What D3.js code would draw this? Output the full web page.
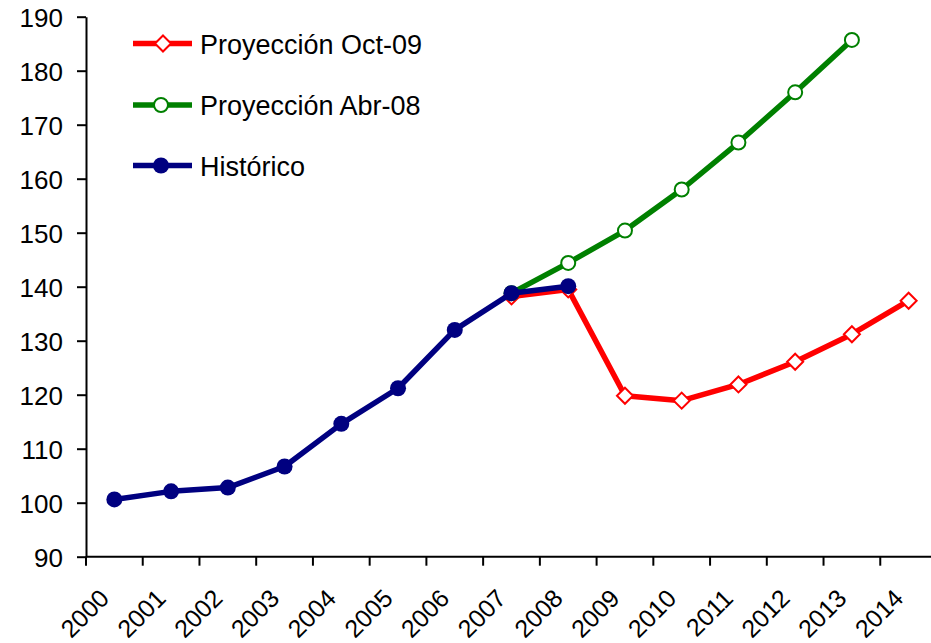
<!DOCTYPE html>
<html>
<head>
<meta charset="utf-8">
<script src="https://cdn.jsdelivr.net/npm/d3@7"></script>
<style>
  html, body { margin: 0; padding: 0; background: #fff; }
  svg { display: block; }
  text { font-family: "Liberation Sans", Arial, sans-serif; fill: #000; }
</style>
</head>
<body>
<svg id="chart" width="931" height="643"></svg>
<script>
const categories = ["2000","2001","2002","2003","2004","2005","2006","2007","2008","2009","2010","2011","2012","2013","2014"];
const historico = [100.6, 102.1, 102.8, 106.7, 114.6, 121.2, 132.0, 138.8, 140.1, null, null, null, null, null, null];
const proyAbr08 = [null, null, null, null, null, null, null, 138.8, 144.4, 150.4, 158.0, 166.7, 176.0, 185.7, null];
const proyOct09 = [null, null, null, null, null, null, null, 138.2, 139.5, 119.8, 118.9, 121.9, 126.1, 131.2, 137.4];
const yTicks = [90, 100, 110, 120, 130, 140, 150, 160, 170, 180, 190];
const seriesNames = ["Proyección Oct-09", "Proyección Abr-08", "Histórico"];

(function () {
const svg = d3.select("#chart");
const plotLeft = 86, plotTop = 16.7, plotBottom = 556.7, plotRight = 937;

const x = d3.scaleBand().domain(categories).range([plotLeft, plotRight]).padding(0);
const y = d3.scaleLinear().domain([90, 190]).range([plotBottom, plotTop]);

// Y axis
const yAxis = svg.append("g").attr("transform", `translate(${plotLeft},0)`)
  .call(d3.axisLeft(y).tickValues(yTicks).tickSize(9).tickPadding(14).tickSizeOuter(0));
yAxis.select(".domain").attr("stroke", "#000").attr("stroke-width", 2);
yAxis.selectAll(".tick line").attr("stroke", "#000").attr("stroke-width", 2);
yAxis.selectAll(".tick text").style("font-size", "26px").attr("dy", "0.36em");

// X axis
const xAxis = svg.append("g").attr("transform", `translate(0,${plotBottom})`);
xAxis.append("line").attr("x1", plotLeft).attr("x2", 931).attr("y1", 0).attr("y2", 0)
  .attr("stroke", "#000").attr("stroke-width", 2);
xAxis.selectAll("line.tk").data(categories).enter().append("line").attr("class", "tk")
  .attr("x1", d => x(d)).attr("x2", d => x(d)).attr("y1", 0).attr("y2", 9)
  .attr("stroke", "#000").attr("stroke-width", 2);
xAxis.selectAll("text.lb").data(categories).enter().append("text").attr("class", "lb")
  .attr("transform", d => `translate(${x(d) + x.bandwidth() / 2 - 10},37) rotate(-45)`)
  .attr("text-anchor", "end").attr("dy", "0.35em")
  .style("font-size", "25px").text(d => d);

const cx = (d, i) => x(categories[i]) + x.bandwidth() / 2;
const line = d3.line().defined(d => d != null).x(cx).y(d => y(d));

const series = [
  { name: seriesNames[0], data: proyOct09, color: "#FF0000", marker: "diamond" },
  { name: seriesNames[1], data: proyAbr08, color: "#008000", marker: "open" },
  { name: seriesNames[2], data: historico, color: "#000080", marker: "filled" }
];

function drawMarker(g, type, color) {
  if (type === "diamond") {
    g.append("path").attr("d", "M0,-8L8,0L0,8L-8,0Z")
      .attr("fill", "#fff").attr("stroke", color).attr("stroke-width", 2);
  } else if (type === "open") {
    g.append("circle").attr("r", 7).attr("fill", "#fff").attr("stroke", color).attr("stroke-width", 2);
  } else {
    g.append("circle").attr("r", 8).attr("fill", color);
  }
}

series.forEach(s => {
  const g = svg.append("g");
  g.append("path").datum(s.data).attr("d", line)
    .attr("fill", "none").attr("stroke", s.color).attr("stroke-width", 5.5)
    .attr("stroke-linejoin", "round");
  s.data.forEach((v, i) => {
    if (v == null) return;
    const m = g.append("g").attr("transform", `translate(${cx(v, i)},${y(v)})`);
    drawMarker(m, s.marker, s.color);
  });
});

// Legend
const legendY = [43.5, 105, 165.5];
series.forEach((s, i) => {
  const g = svg.append("g").attr("transform", `translate(0,${legendY[i]})`);
  g.append("line").attr("x1", 133).attr("x2", 192).attr("y1", 0).attr("y2", 0)
    .attr("stroke", s.color).attr("stroke-width", 5.5);
  const m = g.append("g").attr("transform", `translate(${i === 0 ? 163 : 161},0)`);
  drawMarker(m, s.marker, s.color);
  g.append("text").attr("x", 200).attr("y", 1).attr("dy", "0.35em")
    .style("font-size", "27px").text(s.name);
});
})();
</script>
</body>
</html>
